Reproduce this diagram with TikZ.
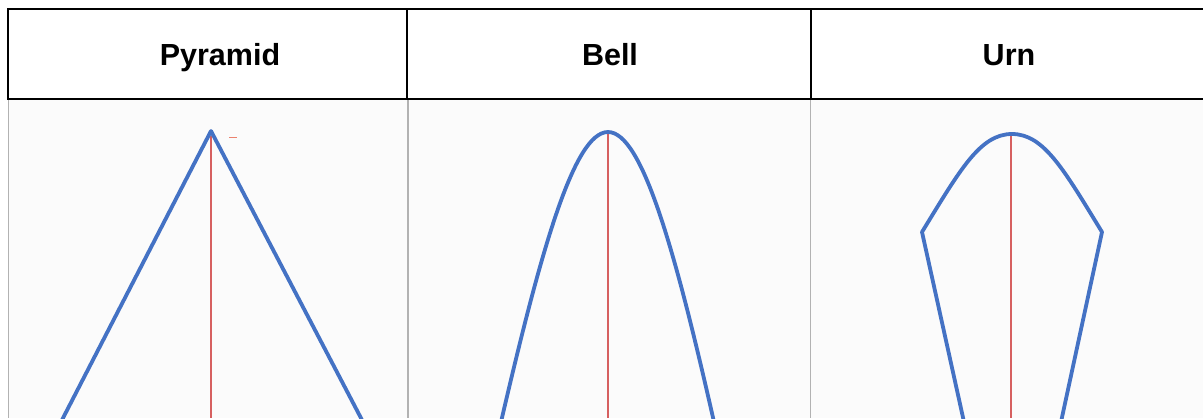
\documentclass[tikz,border=0pt]{standalone}
\usepackage{fontspec}
\setmainfont{Liberation Sans}
\definecolor{curveblue}{RGB}{68,114,196}
\definecolor{axisred}{RGB}{214,96,96}
\definecolor{tickred}{RGB}{235,130,110}
\definecolor{cellgray}{RGB}{178,178,178}
\definecolor{imgbg}{RGB}{251,251,251}
\begin{document}
\begin{tikzpicture}[x=1pt,y=-1pt,
  hdr/.style={font=\fontsize{30.5}{36}\selectfont\bfseries, anchor=base, inner sep=0pt},
  rule/.style={draw=black, line width=2pt},
  cellline/.style={draw=cellgray, line width=1.6pt},
  curve/.style={draw=curveblue, line width=3.8pt, line join=round, line cap=round},
  axis/.style={draw=axisred, line width=1.4pt}]
\useasboundingbox (0,0) rectangle (1203,418);
\fill[white] (0,0) rectangle (1203,418);
\fill[imgbg] (8,100) rectangle (1203,418);
\begin{scope}
\clip (8,100) rectangle (1203,418);
% cell borders of the picture row
\draw[cellline] (8,100) -- (8,418);
\draw[cellline] (408,100) -- (408,418);
\draw[cellline] (810.5,100) -- (810.5,418);
% Pyramid
\draw[axis] (211,136) -- (211,418);
\draw[curve] (62,420) -- (211,131) -- (362,420);
\draw[tickred, line width=1.2pt] (229,137.5) -- (237,137.5);
% Bell
\draw[axis] (608,134) -- (608,418);
\draw[curve] (501,422) .. controls (541,250) and (574,132) .. (608,132)
  .. controls (642,132) and (675,250) .. (714,422);
% Urn
\draw[axis] (1011,136) -- (1011,418);
\draw[curve] (964,422) -- (922,232) .. controls (960,170) and (980,134) .. (1012,134)
  .. controls (1044,134) and (1064,170) .. (1102,232) -- (1061,422);
\end{scope}
% header row
\draw[rule] (8,9) -- (1203,9);
\draw[rule] (8,99) -- (1203,99);
\draw[rule] (8,8) -- (8,100);
\draw[rule] (407,9) -- (407,100);
\draw[rule] (811,9) -- (811,100);
\node[hdr] (pyr) at (220,65) {Pyramid};
\node[hdr] (bell) at (610,65) {Bell};
\node[hdr] (urn) at (1009,65) {Urn};
\end{tikzpicture}
\end{document}
